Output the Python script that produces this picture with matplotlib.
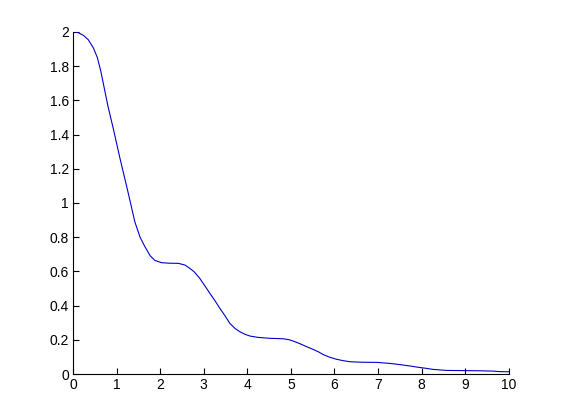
import numpy as np
import matplotlib.pyplot as plt

plt.rcParams['font.family'] = ['Liberation Sans', 'DejaVu Sans']

# points
x = [0.0, 0.05, 0.12, 0.24, 0.35, 0.47, 0.56, 0.64, 0.72, 0.80, 0.93, 1.08, 1.23,
     1.33, 1.42, 1.54, 1.65, 1.77, 1.88, 2.03, 2.20, 2.42, 2.57, 2.68, 2.78,
     2.91, 3.02, 3.14, 3.26, 3.37, 3.49, 3.60, 3.72, 3.83, 3.95, 4.06, 4.25,
     4.50, 4.82, 4.95, 5.05, 5.20, 5.36, 5.50, 5.63, 5.74, 5.89, 6.05, 6.20,
     6.35, 6.60, 6.97, 7.27, 7.50, 7.73, 7.96, 8.11, 8.26, 8.57, 8.95, 9.30,
     9.64, 9.79, 10.0]
y = [2.0, 2.0, 1.996, 1.98, 1.955, 1.906, 1.85, 1.77, 1.67, 1.57, 1.43, 1.26, 1.10,
     0.99, 0.89, 0.80, 0.745, 0.692, 0.664, 0.651, 0.648, 0.647, 0.637, 0.618, 0.598,
     0.559, 0.518, 0.472, 0.428, 0.384, 0.340, 0.296, 0.266, 0.247, 0.232, 0.222, 0.214,
     0.209, 0.206, 0.201, 0.193, 0.178, 0.160, 0.145, 0.130, 0.114, 0.098, 0.086, 0.078,
     0.072, 0.069, 0.068, 0.062, 0.055, 0.047, 0.038, 0.033, 0.027, 0.021, 0.020, 0.019,
     0.017, 0.014, 0.013]

fig = plt.figure(figsize=(5.61, 4.2), dpi=100)
ax = fig.add_axes([0.13, 0.1095, 0.777, 0.8145])
ax.plot(x, y, color='#0000cc', lw=0.8)

ax.set_xlim(0, 10)
ax.set_ylim(0, 2)
ax.set_xticks(np.arange(0, 11, 1))
ax.set_yticks(np.arange(0, 2.01, 0.2))
ax.set_yticklabels(['0', '0.2', '0.4', '0.6', '0.8', '1', '1.2', '1.4', '1.6', '1.8', '2'])
ax.tick_params(direction='in', length=4, width=0.8, labelsize=10, pad=3)
ax.spines['top'].set_visible(False)
ax.spines['right'].set_visible(False)
for s in ['left', 'bottom']:
    ax.spines[s].set_linewidth(0.8)

plt.savefig('out.png', dpi=100)
